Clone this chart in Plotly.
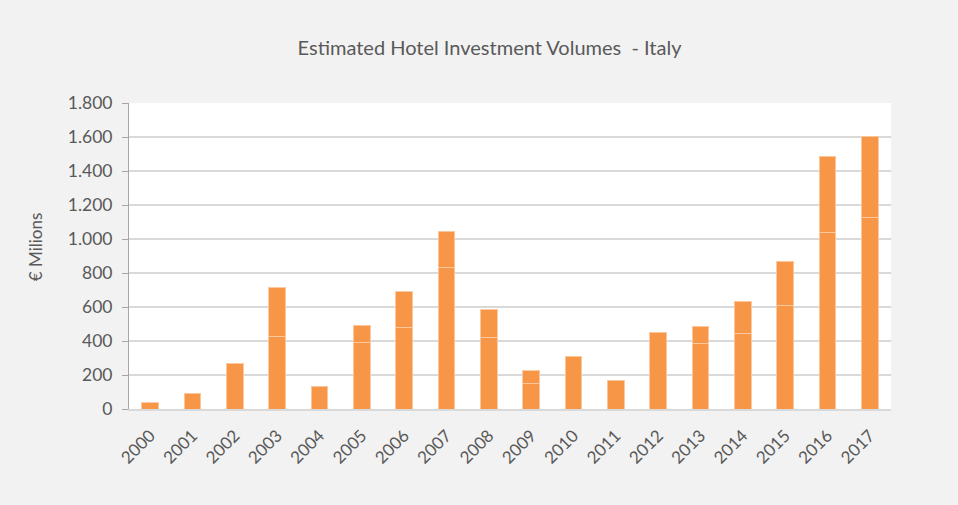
import plotly.graph_objects as go

years = [str(y) for y in range(2000, 2018)]
lower_values = [37, 92, 266, 427, 134, 392, 480, 834, 421, 150, 311, 170, 451, 386, 445, 610, 1041, 1124]
upper_values = [None, None, None, 285, None, 102, 209, 212, 163, 74, None, None, None, 102, 189, 258, 445, 480]
y_ticks = [0, 200, 400, 600, 800, 1000, 1200, 1400, 1600, 1800]

BAR = "#f79646"
EDGE = "rgba(252,200,160,0.95)"
TXT = "#595959"
FONT = "Lato"

fig = go.Figure()
for vals in (lower_values, upper_values):
    fig.add_trace(go.Bar(
        x=years, y=vals,
        marker=dict(color=BAR, line=dict(color=EDGE, width=1)),
        showlegend=False, hoverinfo="x+y",
    ))

fig.update_layout(
    barmode="stack",
    bargap=0.6,
    width=958, height=505,
    margin=dict(l=129, r=67, t=103, b=96),
    paper_bgcolor="#f2f2f2",
    plot_bgcolor="#ffffff",
    separators=",.",
    font=dict(family=FONT, color=TXT, size=16),
    title=dict(
        text="Estimated Hotel Investment Volumes  - Italy",
        x=0.511, xanchor="center", y=0.905, yanchor="middle",
        font=dict(family=FONT, size=20, color=TXT),
    ),
    xaxis=dict(
        type="category",
        tickangle=-45,
        showline=True, linecolor="#d9d9d9", linewidth=2,
        showgrid=False, ticks="",
        ticklabelstandoff=8,
        tickfont=dict(family=FONT, size=17, color=TXT),
    ),
    yaxis=dict(
        range=[0, 1800],
        tickvals=y_ticks,
        tickformat=",d",
        showgrid=True, gridcolor="#d9d9d9", gridwidth=1.5,
        showline=True, linecolor="#a6a6a6", linewidth=1,
        ticks="outside", ticklen=6, tickcolor="#a6a6a6",
        ticklabelstandoff=6,
        zeroline=False,
        tickfont=dict(family=FONT, size=17.5, color=TXT),
    ),
    annotations=[dict(
        text="€ Milions", textangle=-90,
        xref="paper", yref="paper",
        x=(35 - 129) / 762, y=(408.5 - 247) / 305.5,
        xanchor="center", yanchor="middle", showarrow=False,
        font=dict(family=FONT, size=17, color=TXT),
    )],
)

fig.write_html("out.html")
